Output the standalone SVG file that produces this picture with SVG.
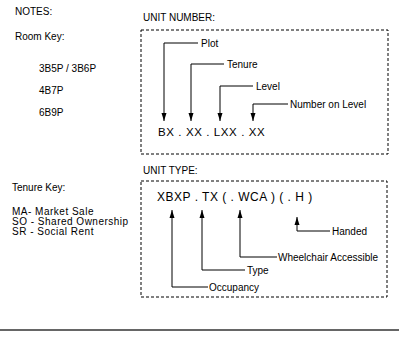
<svg xmlns="http://www.w3.org/2000/svg" width="399" height="361" viewBox="0 0 399 361">
<style>
text{font-family:"Liberation Sans",Arial,sans-serif;fill:#000}
.t{font-size:10px}
.s{font-size:10px;letter-spacing:0.5px}
.big{font-size:11.5px;letter-spacing:0.6px}
.box{fill:none;stroke:#000;stroke-width:1;stroke-dasharray:3,2}
.c{fill:none;stroke:#000;stroke-width:1}
</style>
<defs>
<marker id="ah" viewBox="0 0 8 6" refX="8" refY="3" markerWidth="8" markerHeight="6" markerUnits="userSpaceOnUse" orient="auto">
<path d="M0,0.5 L8,3 L0,5.5 Z" fill="#000"/>
</marker>
</defs>
<rect width="399" height="361" fill="#fff"/>
<g id="notes">
<text class="t" x="15" y="15">NOTES:</text>
<text class="t" x="15" y="40">Room Key:</text>
<text class="t" x="39" y="72">3B5P / 3B6P</text>
<text class="t" x="39" y="94">4B7P</text>
<text class="t" x="39" y="116">6B9P</text>
</g>
<g id="tenure-key">
<text class="t" x="12" y="191">Tenure Key:</text>
<text class="s" x="12" y="214.5">MA- Market Sale</text>
<text class="s" x="12" y="224.5">SO - Shared Ownership</text>
<text class="s" x="12" y="234.5">SR - Social Rent</text>
</g>
<g id="unit-number">
<text class="t" x="143" y="21">UNIT NUMBER:</text>
<rect class="box" x="141" y="30" width="247" height="124"/>
<text class="big" x="158" y="136">BX . XX . LXX . XX</text>
<text class="t" x="201" y="46.5">Plot</text>
<text class="t" x="227" y="67.5">Tenure</text>
<text class="t" x="256" y="89.5">Level</text>
<text class="t" x="290" y="107.5">Number on Level</text>
</g>
<g id="unit-type">
<text class="t" x="143" y="174">UNIT TYPE:</text>
<rect class="box" x="141" y="181" width="246" height="116"/>
<text class="big" x="157" y="201" style="font-size:12px;letter-spacing:0.5px">XBXP . TX ( . WCA ) ( . H )</text>
<text class="t" x="209" y="290.5">Occupancy</text>
<text class="t" x="247" y="273.5">Type</text>
<text class="t" x="278" y="260.5">Wheelchair Accessible</text>
<text class="t" x="332" y="234.5">Handed</text>
</g>
<g id="connectors">
<path class="c" d="M198,43 H164 V121" marker-end="url(#ah)"/>
<path class="c" d="M224,64 H191 V121" marker-end="url(#ah)"/>
<path class="c" d="M253,86 H220 V121" marker-end="url(#ah)"/>
<path class="c" d="M288,104 H253 V121" marker-end="url(#ah)"/>
<path class="c" d="M208,287 H172 V210" marker-end="url(#ah)"/>
<path class="c" d="M245,270 H202 V210" marker-end="url(#ah)"/>
<path class="c" d="M277,257 H240 V210" marker-end="url(#ah)"/>
<path class="c" d="M330,231 H297 V217" marker-end="url(#ah)"/>
</g>
<line x1="0" y1="330" x2="399" y2="330" stroke="#333" stroke-width="1.5"/>
</svg>
